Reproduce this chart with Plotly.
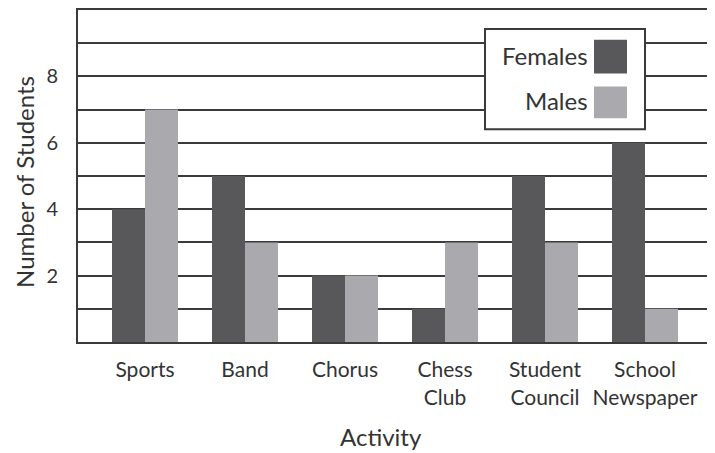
import plotly.graph_objects as go

# ---- data ----
activities = ["Sports", "Band", "Chorus", "Chess<br>Club", "Student<br>Council", "School<br>Newspaper"]
females = [4, 5, 2, 1, 5, 6]
males = [7, 3, 2, 3, 3, 1]
series_names = ["Females", "Males"]
series_colors = ["#58585b", "#aaaaae"]
ytick_vals = [1, 2, 3, 4, 5, 6, 7, 8, 9]
ytick_text = ["", "2", "", "4", "", "6", "", "8", ""]

OFF = 8  # page body margin
W, H = 715 - OFF, 453 - OFF
L, R, T, B = 78 - OFF, 5, 8 - OFF, 111
PW, PH = W - L - R, H - T - B
FONT = "Lato"
INK = "#333333"
LINE = "#3a3a3a"

def px(x):
    return (x - OFF - L) / PW

def py(y):
    return (H - B - (y - OFF)) / PH

fig = go.Figure()
for name, vals, col in zip(series_names, [females, males], series_colors):
    fig.add_trace(go.Bar(x=activities, y=vals, name=name, marker_color=col,
                         marker_line_width=0, showlegend=False))

fig.update_layout(
    width=W, height=H,
    margin=dict(l=L, r=R, t=T, b=B, pad=0),
    paper_bgcolor="white", plot_bgcolor="white",
    barmode="group", bargap=0.34, bargroupgap=0,
    font=dict(family=FONT, color=INK),
)
fig.update_xaxes(range=[-0.67, 5.65], showline=True, mirror=True, linecolor=LINE, linewidth=2,
                 showgrid=False, ticks="", tickfont=dict(size=21, color=INK),
                 ticklabelstandoff=8)
fig.update_yaxes(range=[0, 10], tickmode="array", tickvals=ytick_vals, ticktext=ytick_text,
                 showline=True, mirror=True, linecolor=LINE, linewidth=2,
                 showgrid=True, gridcolor=LINE, gridwidth=2, zeroline=False,
                 ticks="", tickfont=dict(size=20, color=INK), ticklabelstandoff=14)

# custom legend (swatch on the right of the label)
shapes = [dict(type="rect", xref="paper", yref="paper", x0=px(485), x1=px(645), y0=py(128), y1=py(27),
               fillcolor="white", line=dict(color=LINE, width=2), layer="above")]
annotations = []
rows = [(38, 72, 54), (85, 117, 99)]
for (y0, y1, yc), name, col in zip(rows, series_names, series_colors):
    shapes.append(dict(type="rect", xref="paper", yref="paper", x0=px(594), x1=px(627),
                       y0=py(y1), y1=py(y0), fillcolor=col, line=dict(width=0), layer="above"))
    annotations.append(dict(text=name, xref="paper", yref="paper", x=px(590), y=py(yc),
                            xanchor="right", yanchor="middle", showarrow=False,
                            font=dict(size=24, color=INK, family=FONT)))
annotations.append(dict(text="Activity", xref="paper", yref="paper", x=px(381), y=py(437),
                        xanchor="center", yanchor="middle", showarrow=False,
                        font=dict(size=24, color=INK, family=FONT)))
annotations.append(dict(text="Number of Students", xref="paper", yref="paper", x=px(25), y=py(181),
                        xanchor="center", yanchor="middle", showarrow=False, textangle=-90,
                        font=dict(size=24, color=INK, family=FONT)))
fig.update_layout(shapes=shapes, annotations=annotations)

fig.write_html("out.html")
